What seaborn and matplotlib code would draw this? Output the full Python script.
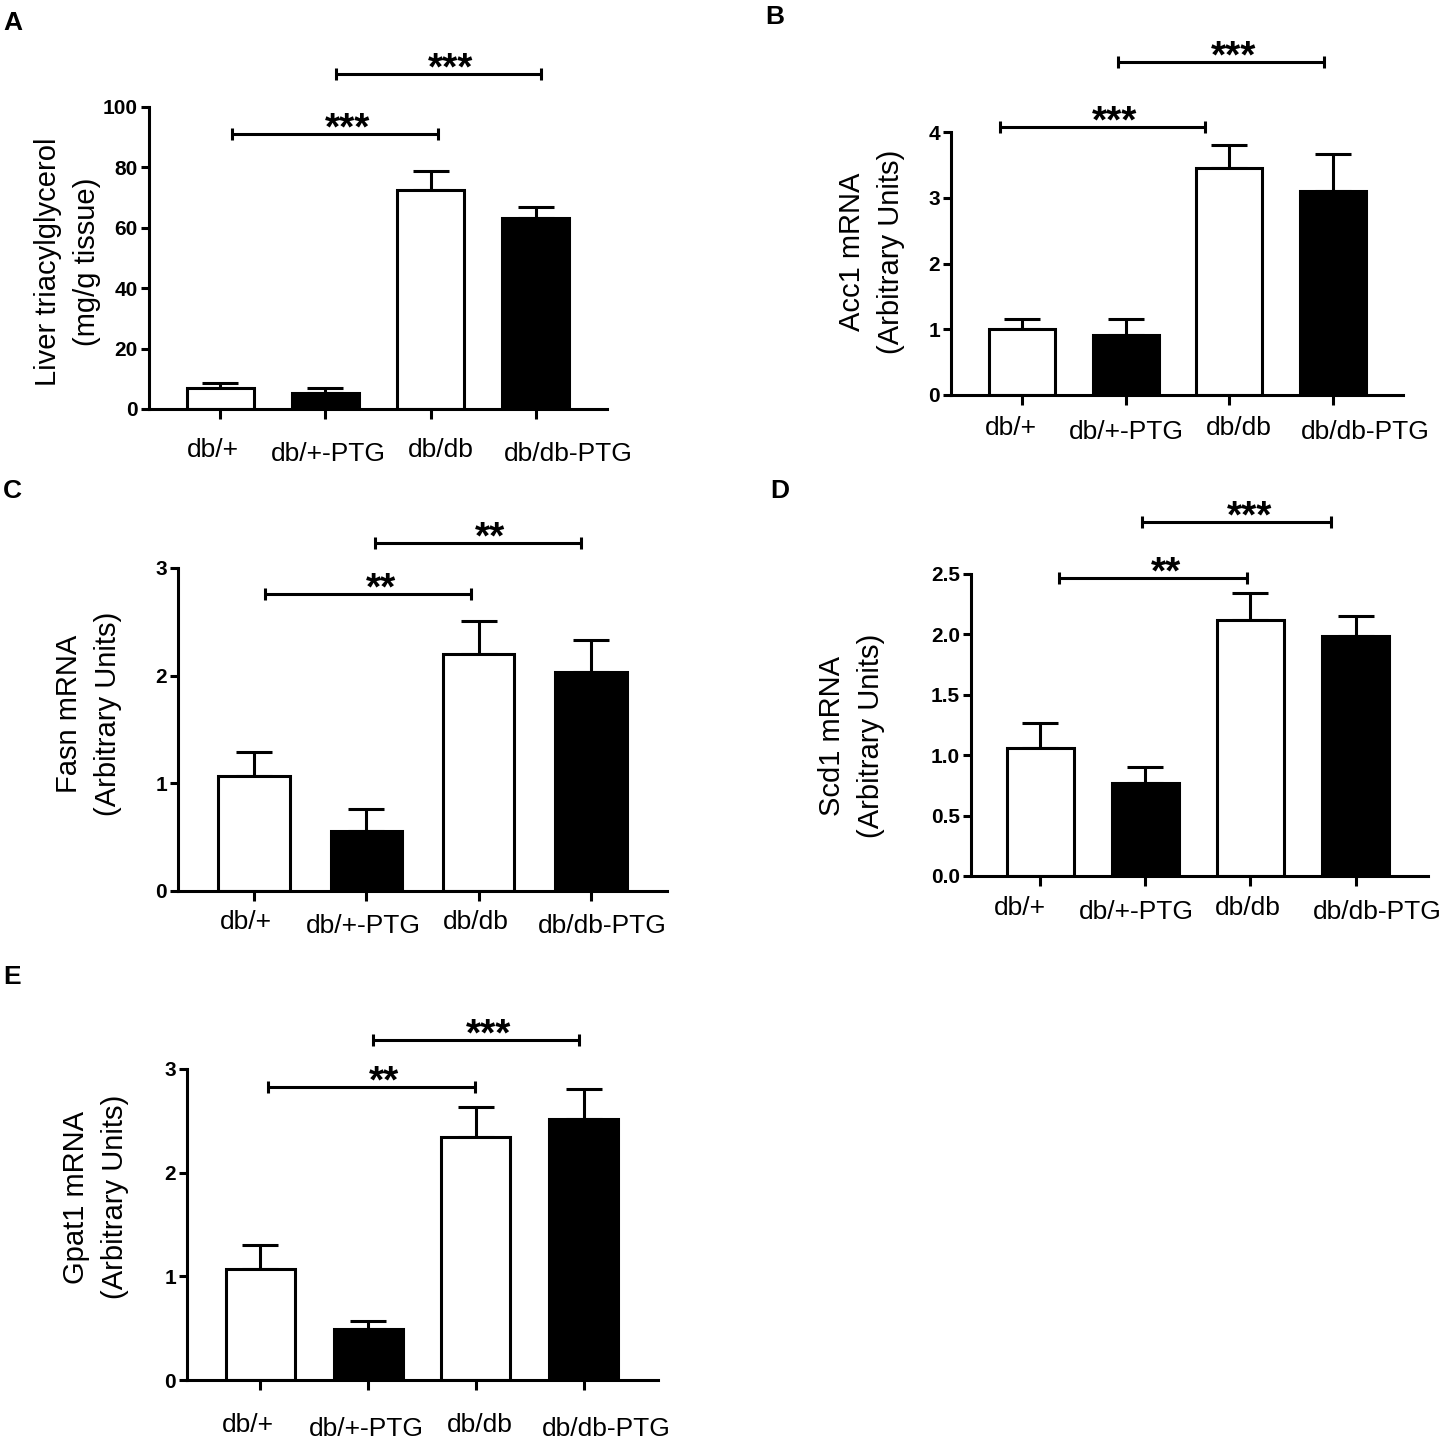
import numpy as np
import pandas as pd
import matplotlib
matplotlib.use("Agg")
import matplotlib.pyplot as plt
import matplotlib.transforms as mtransforms
import seaborn as sns

# ==================================================
# DATA
# ==================================================

groups = ["db/+", "db/+-PTG", "db/db", "db/db-PTG"]
bar_colors = ["white", "black", "white", "black"]

# A - liver triacylglycerol (mg/g tissue)
a_mean = [6.8, 5.3, 72.4, 63.2]
a_sem = [1.8, 1.7, 6.3, 3.7]
a_sig = [(0.11, 2.07, 91, "***"), (1.10, 3.05, 111, "***")]

# B - Acc1 mRNA
b_mean = [1.01, 0.92, 3.45, 3.10]
b_sem = [0.14, 0.23, 0.35, 0.56]
b_sig = [(-0.22, 1.77, 4.08, "***"), (0.92, 2.92, 5.06, "***")]

# C - Fasn mRNA
c_mean = [1.07, 0.56, 2.20, 2.03]
c_sem = [0.22, 0.20, 0.31, 0.30]
c_sig = [(0.10, 1.93, 2.76, "**"), (1.08, 2.91, 3.23, "**")]

# D - Scd1 mRNA
d_mean = [1.06, 0.77, 2.12, 1.99]
d_sem = [0.21, 0.13, 0.22, 0.16]
d_sig = [(0.18, 1.97, 2.47, "**"), (0.97, 2.77, 2.93, "***")]

# E - Gpat1 mRNA
e_mean = [1.07, 0.49, 2.34, 2.52]
e_sem = [0.23, 0.08, 0.29, 0.29]
e_sig = [(0.07, 1.99, 2.83, "**"), (1.05, 2.96, 3.28, "***")]

# ==================================================
# FIGURE SETUP
# ==================================================

sns.set_style("white")
plt.rcParams["font.family"] = ["Liberation Sans", "DejaVu Sans"]
for key in ["text.color", "axes.labelcolor", "xtick.color", "ytick.color",
            "axes.edgecolor"]:
    plt.rcParams[key] = "black"

W, H = 1440, 1442
fig = plt.figure(figsize=(W / 100, H / 100), dpi=100)
pal = dict(zip(groups, bar_colors))


def draw_panel(rect, letter, letter_xy, means, sems, sig, ylim, yticks, fmt,
               ylabel, label_px, xlim, xpad, xshift):
    left, right, y0, ytop = rect
    ax = fig.add_axes([left / W, 1 - y0 / H, (right - left) / W, (y0 - ytop) / H])

    df = pd.DataFrame({"group": groups, "value": means})
    sns.barplot(data=df, x="group", y="value", hue="group", palette=pal,
                saturation=1, edgecolor="black", linewidth=2.2, width=0.64,
                legend=False, errorbar=None, ax=ax, zorder=2)
    ax.errorbar(range(len(groups)), means, yerr=[np.zeros(len(sems)), sems],
                fmt="none", ecolor="black", elinewidth=2.2, capsize=13,
                capthick=2.2, zorder=1)

    ax.set_xlim(*xlim)
    ax.set_ylim(*ylim)
    ax.set_yticks(yticks)
    ax.set_yticklabels([fmt.format(t) for t in yticks], fontweight="bold",
                       fontsize=15)
    ax.set_xticks(range(len(groups)))
    ax.set_xticklabels(groups, fontsize=19)
    ax.set_xlabel("")

    sns.despine(ax=ax)
    for s in ["left", "bottom"]:
        ax.spines[s].set_linewidth(2.2)
    ax.tick_params(axis="y", direction="out", length=6, width=2.2, pad=2,
                   left=True)
    ax.tick_params(axis="x", direction="out", length=7, width=2.2, pad=xpad,
                   bottom=True)

    # labels are nudged sideways, PTG labels sit a little lower
    for i, lab in enumerate(ax.get_xticklabels()):
        dy = -4 if i % 2 == 1 else 0
        shift = mtransforms.ScaledTranslation(xshift[i] / 100, dy / 100,
                                              fig.dpi_scale_trans)
        lab.set_transform(lab.get_transform() + shift)

    ax.set_ylabel(ylabel, fontsize=21, linespacing=1.5)
    lx, ly = label_px
    ax.yaxis.set_label_coords((lx - left) / (right - left), (y0 - ly) / (y0 - ytop))

    for x1, x2, y, txt in sig:
        ax.plot([x1, x2], [y, y], color="black", lw=2.2, marker="|", ms=9,
                mew=2.2, clip_on=False)
        ax.annotate(txt, xy=((x1 + x2) / 2, y), xytext=(9, -4),
                    textcoords="offset points", ha="center", va="baseline",
                    fontsize=28, fontweight="bold", annotation_clip=False)

    fig.text(letter_xy[0] / W, 1 - letter_xy[1] / H, letter, fontsize=19,
             fontweight="bold", ha="left", va="top")
    return ax


draw_panel((149, 607, 409, 107), "A", (3, 11), a_mean, a_sem, a_sig,
           (0, 100), [0, 20, 40, 60, 80, 100], "{:.0f}",
           "Liver triacylglycerol\n(mg/g tissue)", (101, 262), (-0.68, 3.68),
           14, [-8, 3, 10, 33])

draw_panel((951, 1403, 395, 132), "B", (765, 5), b_mean, b_sem, b_sig,
           (0, 4), [0, 1, 2, 3, 4], "{:.0f}",
           "Acc1 mRNA\n(Arbitrary Units)", (905, 252), (-0.69, 3.68),
           8, [-11, 1, 10, 33])

draw_panel((178, 667, 891, 568), "C", (3, 479), c_mean, c_sem, c_sig,
           (0, 3), [0, 1, 2, 3], "{:.0f}",
           "Fasn mRNA\n(Arbitrary Units)", (122, 714), (-0.68, 3.68),
           6.5, [-8, -3, -3, 12])

draw_panel((971, 1428, 876, 574), "D", (770, 479), d_mean, d_sem, d_sig,
           (0, 2.5), [0, 0.5, 1.0, 1.5, 2.0, 2.5], "{:.1f}",
           "Scd1 mRNA\n(Arbitrary Units)", (885, 736), (-0.66, 3.69),
           7.5, [-20, -9, -3, 22])

draw_panel((187, 658, 1380, 1069), "E", (3, 965), e_mean, e_sem, e_sig,
           (0, 3), [0, 1, 2, 3], "{:.0f}",
           "Gpat1 mRNA\n(Arbitrary Units)", (129, 1197), (-0.68, 3.69),
           17, [-12, -2, 4, 23])

plt.savefig("out.png", dpi=100)
